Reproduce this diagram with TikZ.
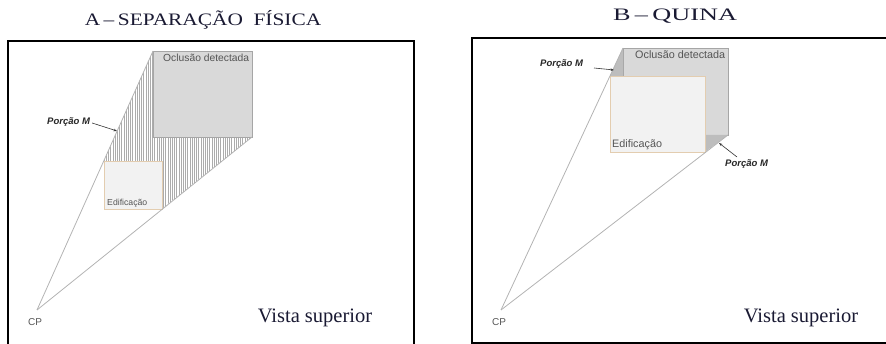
\documentclass[tikz,border=0pt]{standalone}
\usepackage{fontspec}
\setmainfont{Liberation Serif}
\newfontfamily\arialf{Liberation Sans}
\usetikzlibrary{arrows.meta}
\definecolor{occfill}{HTML}{D9D9D9}
\definecolor{occdark}{HTML}{BDBDBD}
\definecolor{occline}{HTML}{A6A6A6}
\definecolor{edfill}{HTML}{F2F2F2}
\definecolor{edline}{HTML}{E3CDB0}
\definecolor{rayline}{HTML}{B3B3B3}
\definecolor{lbl}{HTML}{555555}
\definecolor{ttl}{HTML}{1A1A33}
\tikzset{
  frame/.style={draw=black, line width=1.3pt},
  occ/.style={fill=occfill, draw=occline, line width=0.8pt},
  edif/.style={fill=edfill, draw=edline, line width=0.8pt},
  ray/.style={draw=rayline, line width=0.8pt},
  hatchline/.style={draw=gray!65, line width=0.4pt},
  smalllbl/.style={font=\arialf\fontsize{10}{12}\selectfont, text=lbl, inner sep=0pt},
  porcao/.style={font=\arialf\bfseries\itshape\fontsize{9.5}{11}\selectfont, text=black!85, inner sep=0pt},
  ptr/.style={draw=black!80, line width=0.6pt, -{Stealth[length=3.5pt,width=2.5pt]}},
  vista/.style={font=\fontsize{20.5}{23}\selectfont, text=ttl, inner sep=0pt},
  ttlstyle/.style={font=\fontsize{17.5}{19}\selectfont, text=ttl, inner sep=0pt},
}
\begin{document}
\begin{tikzpicture}[x=1pt,y=-1pt]
\useasboundingbox (0,0) rectangle (886,344);
% ---------------- Panel A ----------------
\node[ttlstyle] (tA) at (203,20) {\scalebox{1.22}[1]{A\,–\,SEPARAÇÃO\ \ FÍSICA}};
\draw[frame] (8,41) rectangle (414,345);
\coordinate (cpA) at (37,310);
\coordinate (aEdTL) at (104,161);
\coordinate (aEdBR) at (162,209);
\coordinate (aOcTL) at (153,51);
\coordinate (aOcBR) at (252,137);
% hatched region
\begin{scope}
  \clip (aEdTL) -- (aOcTL) -- (153,137) -- (aOcBR) -- (aEdBR) -- (162,161) -- cycle;
  \foreach \x in {104,106.2,...,254} \draw[hatchline] (\x,45) -- (\x,215);
\end{scope}
\draw[occ] (aOcTL) rectangle (aOcBR);
\draw[edif] (aEdTL) rectangle (aEdBR);
\draw[ray] (cpA) -- (aOcTL);
\draw[ray] (cpA) -- (aOcBR);
\node[smalllbl, anchor=west, font=\arialf\fontsize{10.3}{12}\selectfont] (ocA) at (163,58) {Oclusão detectada};
\node[smalllbl, anchor=west, font=\arialf\fontsize{8.7}{10}\selectfont] (edA) at (107,203) {Edificação};
\node[smalllbl, anchor=west] (cpAl) at (28,322) {CP};
\node[porcao, anchor=west] (pmA) at (47,122) {Porção M};
\coordinate (pmAtip) at (117,131);
\draw[ptr] (pmA.east) ++(2,1) -- (pmAtip);
\node[vista] (vA) at (315,318) {Vista superior};
% ---------------- Panel B ----------------
\node[ttlstyle] (tB) at (675,16) {\scalebox{1.5}[1]{B\,–\,QUINA}};
\draw[frame] (472,38) rectangle (890,343);
\coordinate (cpB) at (501,310);
\coordinate (bEdTL) at (610,76);
\coordinate (bEdBR) at (705,152);
\coordinate (bOcTL) at (623,48);
\coordinate (bOcBR) at (728,135);
\draw[occ] (bOcTL) rectangle (bOcBR);
\fill[occdark] (bOcTL) -- (bEdTL) -- (623,76) -- cycle;
\fill[occdark] (705,135) -- (bOcBR) -- (bEdBR) -- cycle;
\draw[edif] (bEdTL) rectangle (bEdBR);
\draw[ray] (cpB) -- (bOcTL);
\draw[ray] (cpB) -- (bOcBR);
\node[smalllbl, anchor=west, font=\arialf\fontsize{10.8}{12}\selectfont] (ocB) at (635,55) {Oclusão detectada};
\node[smalllbl, anchor=west, font=\arialf\fontsize{10.8}{12}\selectfont] (edB) at (612,145) {Edificação};
\node[smalllbl, anchor=west] (cpBl) at (492,322) {CP};
\node[porcao, anchor=west] (pmB1) at (540,64) {Porção M};
\coordinate (pmB1tip) at (614,70);
\draw[ptr] (594,68) -- (pmB1tip);
\node[porcao, anchor=west] (pmB2) at (725,164) {Porção M};
\coordinate (pmB2tip) at (719,143);
\draw[ptr] (737,157) -- (pmB2tip);
\node[vista] (vB) at (801,318) {Vista superior};
\end{tikzpicture}
\end{document}
